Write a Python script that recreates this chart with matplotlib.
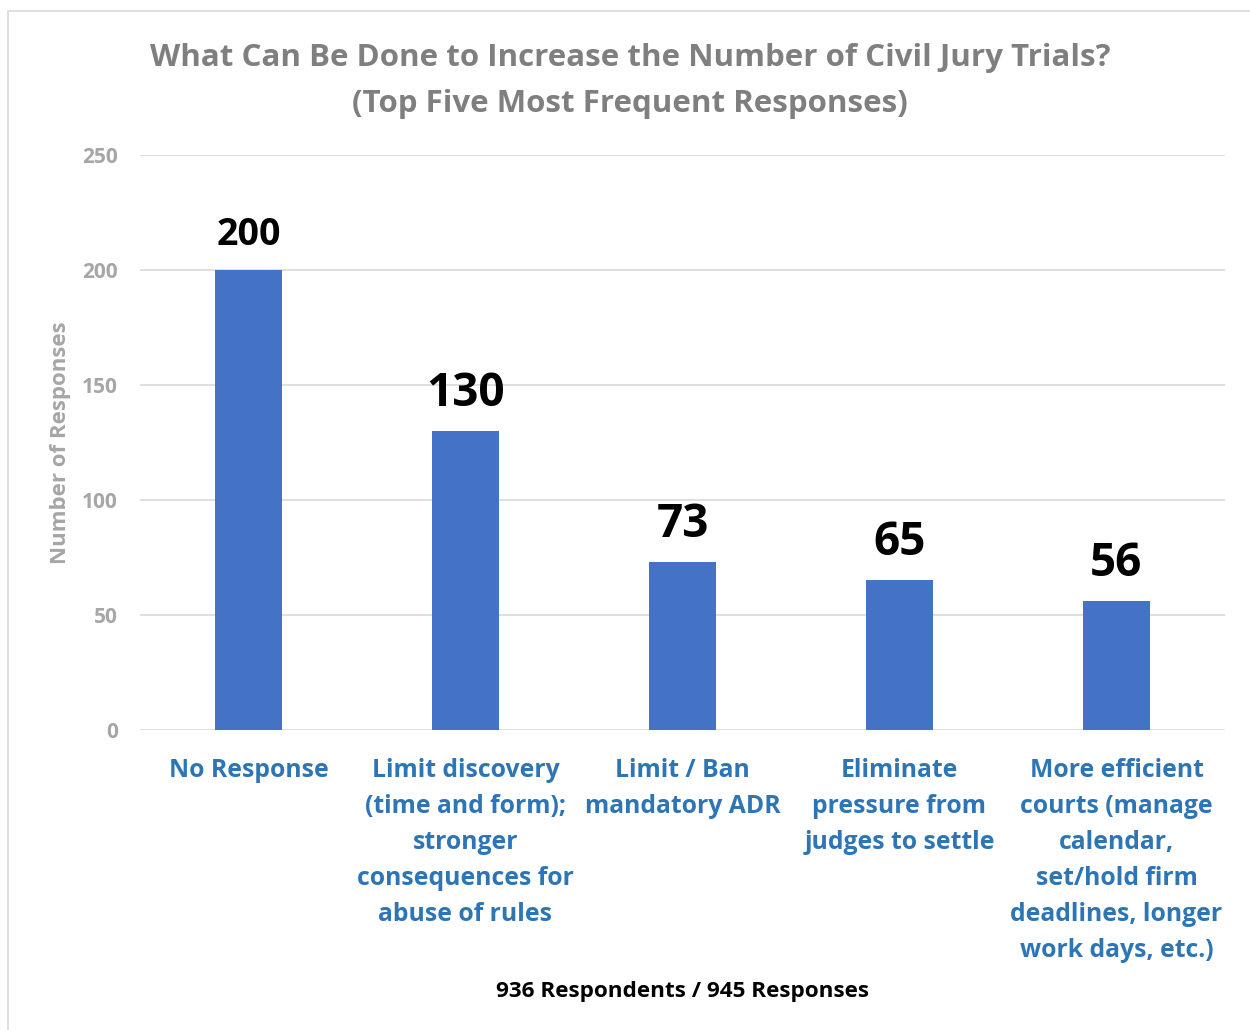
import numpy as np
import matplotlib
matplotlib.use("Agg")
import matplotlib.pyplot as plt
from matplotlib.patches import Rectangle

# -----------------------------
# Data
# -----------------------------
categories = [
    "No Response",
    "Limit discovery\n(time and form);\nstronger\nconsequences for\nabuse of rules",
    "Limit / Ban\nmandatory ADR",
    "Eliminate\npressure from\njudges to settle",
    "More efficient\ncourts (manage\ncalendar,\nset/hold firm\ndeadlines, longer\nwork days, etc.)",
]
counts = [200, 130, 73, 65, 56]
y_ticks = [0, 50, 100, 150, 200, 250]

title = "What Can Be Done to Increase the Number of Civil Jury Trials?\n(Top Five Most Frequent Responses)"
footnote = "936 Respondents / 945 Responses"

# label sizes differ in the original (the 200 label is smaller)
label_sizes = [27, 33, 33, 33, 33]

plt.rcParams["font.family"] = ["Open Sans", "DejaVu Sans"]

fig = plt.figure(figsize=(12.5, 10.3), dpi=100)
fig.patches.append(Rectangle((8 / 1250, -0.01), 1.1, 1 - 11 / 1030 + 0.01,
                             transform=fig.transFigure, fill=False,
                             edgecolor="#D9D9D9", linewidth=1.2))

ax = fig.add_axes([0.112, 0.2913, 0.868, 0.5582])
x = np.arange(len(categories))
ax.bar(x, counts, width=0.31, color="#4472C4", zorder=3)

for xi, v, fs in zip(x, counts, label_sizes):
    ax.annotate(str(v), (xi, v), xytext=(0, 18), textcoords="offset points",
                ha="center", va="baseline", fontsize=fs, fontweight="bold",
                color="black")

ax.set_xlim(-0.5, len(categories) - 0.5)
ax.set_ylim(0, 250)
ax.set_yticks(y_ticks)
ax.grid(axis="y", color="#D9D9D9", linewidth=1.2, zorder=0)
for s in ax.spines.values():
    s.set_visible(False)
ax.tick_params(axis="both", length=0)
ax.tick_params(axis="y", labelsize=15, labelcolor="#A6A6A6", pad=16)
for lbl in ax.get_yticklabels():
    lbl.set_fontweight("bold")

ax.set_xticks(x)
ax.set_xticklabels(categories, fontsize=17.8, fontweight="bold",
                   color="#2E75B6", linespacing=1.58, va="top")
ax.tick_params(axis="x", pad=20)

ax.set_ylabel("Number of Responses", fontsize=16, fontweight="bold",
              color="#A6A6A6", labelpad=8)

fig.text(0.504, 0.9215, title, ha="center", va="center", fontsize=22.5,
         fontweight="bold", color="#7F7F7F", linespacing=1.68)
fig.text(0.546, 0.0375, footnote, ha="center", va="center", fontsize=16.2,
         fontweight="bold", color="black")

fig.savefig("out.png", dpi=100)
